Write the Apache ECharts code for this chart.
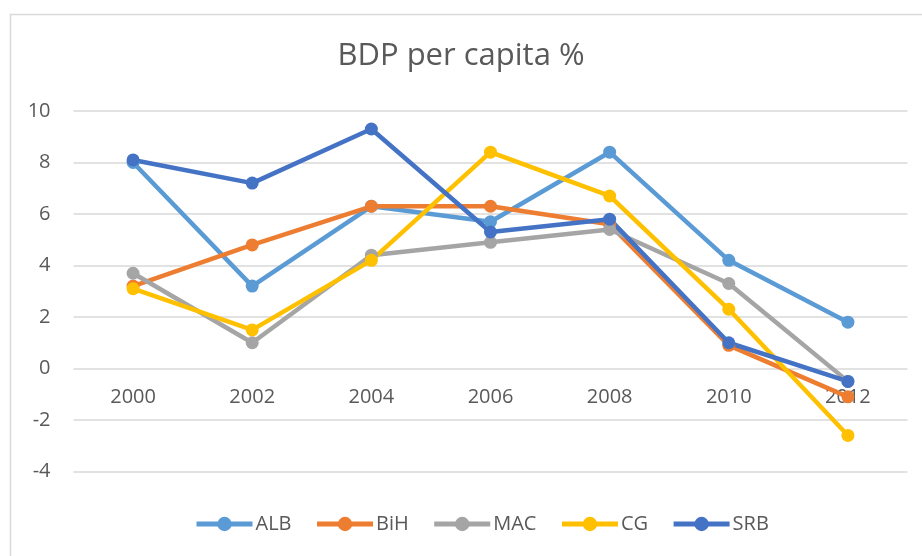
<!DOCTYPE html>
<html>
<head>
<meta charset="utf-8">
<script src="https://cdn.jsdelivr.net/npm/echarts@6/dist/echarts.min.js"></script>
<style>
  html, body { margin: 0; padding: 0; background: #fff; }
  #chart { width: 922px; height: 556px; }
</style>
</head>
<body>
<div id="chart"></div>
<script>
// values
var years = ['2000', '2002', '2004', '2006', '2008', '2010', '2012']
var alb = [8.0, 3.2, 6.3, 5.7, 8.4, 4.2, 1.8]
var bih = [3.2, 4.8, 6.3, 6.3, 5.6, 0.9, -1.1]
var mac = [3.7, 1.0, 4.4, 4.9, 5.4, 3.3, -0.5]
var cg = [3.1, 1.5, 4.2, 8.4, 6.7, 2.3, -2.6]
var srb = [8.1, 7.2, 9.3, 5.3, 5.8, 1.0, -0.5]

var names = ['ALB', 'BiH', 'MAC', 'CG', 'SRB']
var colors = ['#5B9BD5', '#ED7D31', '#A5A5A5', '#FFC000', '#4472C4']
var values = [alb, bih, mac, cg, srb]

var textColor = '#595959'
var font = '"Open Sans", sans-serif'

var series = []
names.forEach(function (name, i) {
  series.push({
    name: name,
    type: 'line',
    data: values[i],
    symbol: 'circle',
    symbolSize: 13,
    lineStyle: { width: 4.5, color: colors[i] },
    itemStyle: { color: colors[i] },
    emphasis: { disabled: true }
  })
})

var myChart = echarts.init(document.getElementById('chart'))
var option = {
  animation: false,
  color: colors,
  textStyle: { fontFamily: font },
  graphic: [{
    type: 'rect',
    left: 8,
    top: 12,
    shape: { width: 940, height: 580 },
    style: { fill: 'none', stroke: '#d9d9d9', lineWidth: 1.5 },
    z: -1
  }],
  title: {
    text: 'BDP per capita %',
    left: 'center',
    top: 36,
    textStyle: { fontFamily: font, fontSize: 31, fontWeight: 'normal', color: textColor }
  },
  legend: {
    data: names,
    left: 189,
    top: 509,
    itemWidth: 56,
    itemHeight: 18,
    itemGap: 23,
    lineStyle: { width: 5 },
    textStyle: { fontFamily: font, fontSize: 20, color: textColor, padding: [0, 0, 0, -2] }
  },
  grid: {
    left: 73.5,
    right: 14.5,
    top: 111,
    bottom: 84.5,
    containLabel: false
  },
  xAxis: {
    type: 'category',
    boundaryGap: true,
    data: years,
    position: 'bottom',
    // labels sit just under the zero line, as in the original
    offset: -103,
    axisLine: { show: false, onZero: false },
    axisTick: { show: false },
    axisLabel: { fontFamily: font, fontSize: 20, color: textColor, margin: 19 }
  },
  yAxis: {
    type: 'value',
    min: -4,
    max: 10,
    interval: 2,
    axisLine: { show: false },
    axisTick: { show: false },
    axisLabel: { fontFamily: font, fontSize: 20, color: textColor, margin: 23 },
    splitLine: { lineStyle: { color: '#d9d9d9', width: 1.5 } }
  },
  series: series
}
option && myChart.setOption(option)
</script>
</body>
</html>
